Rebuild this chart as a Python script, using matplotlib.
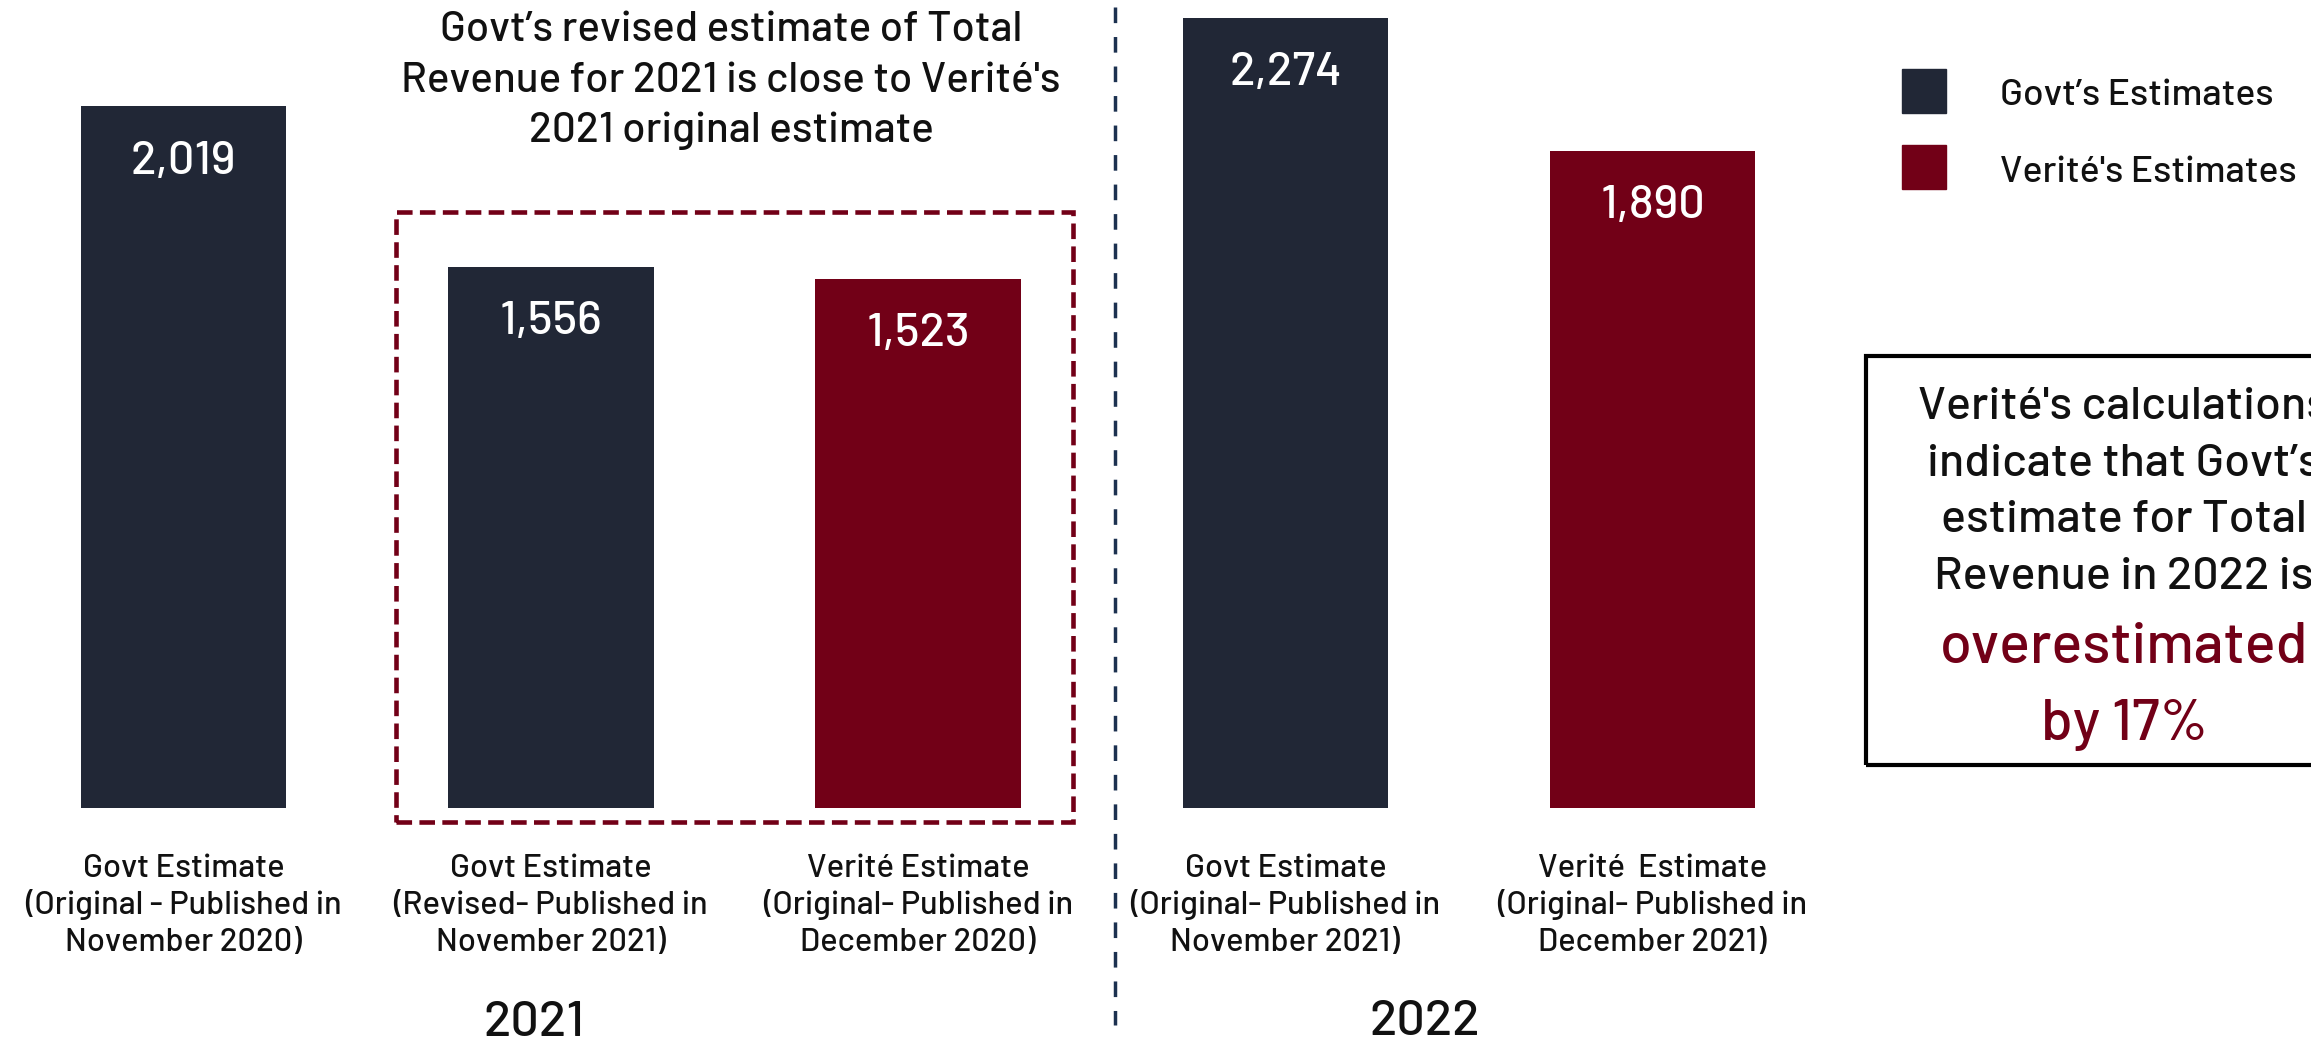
import matplotlib
import matplotlib.pyplot as plt
from matplotlib.patches import Rectangle
from matplotlib.lines import Line2D

matplotlib.use('Agg')

W, H = 2311, 1042

# data
categories = [
    "Govt Estimate\n(Original - Published in\nNovember 2020)",
    "Govt Estimate\n(Revised- Published in\nNovember 2021)",
    "Verité Estimate\n(Original- Published in\nDecember 2020)",
    "Govt Estimate\n(Original- Published in\nNovember 2021)",
    "Verité  Estimate\n(Original- Published in\nDecember 2021)",
]
values = [2019, 1556, 1523, 2274, 1890]
sources = ["Govt", "Govt", "Verite", "Govt", "Verite"]
years = ["2021", "2022"]
legend_labels = ["Govt’s Estimates", "Verité's Estimates"]
title_lines = ["Govt’s revised estimate of Total",
               "Revenue for 2021 is close to Verité's",
               "2021 original estimate"]
note_lines = ["Verité's calculations", "indicate that Govt’s",
              "estimate for Total", "Revenue in 2022 is"]
note_red = ["overestimated", "by 17%"]

NAVY = "#212736"
MAROON = "#720017"
INK = "#111111"

plt.rcParams['font.family'] = ['Barlow', 'DejaVu Sans']
plt.rcParams['font.weight'] = 500

fig = plt.figure(figsize=(W / 100, H / 100), dpi=100)


# helpers: pixel position (from top-left) -> figure fraction
def fx(x):
    return x / W


def fy(y):
    return 1 - y / H


base_px = 807.6
step_px = 367.25
ax = fig.add_axes([0, fy(base_px), 5 * step_px / W, base_px / H])
xs = list(range(len(values)))
colors = [NAVY if s == "Govt" else MAROON for s in sources]
ax.bar(xs, values, width=0.56, color=colors)
ax.set_xlim(-0.5, 4.5)
ax.set_ylim(0, base_px / (790 / 2274))
ax.axis('off')

# value labels inside bars
for xi, v in zip(xs, values):
    ax.annotate(f"{v:,}", (xi, v), xytext=(0, -48.5), textcoords='offset points',
                ha='center', va='baseline', color='white', fontsize=33.8)

# category labels under bars
for xi, lab in zip(xs, categories):
    for k, line in enumerate(lab.split("\n")):
        ax.annotate(line, (xi, 0), xytext=(0, -(69 + 37 * k) * 0.72),
                    textcoords='offset points', ha='center', va='baseline',
                    color=INK, fontsize=23.5, annotation_clip=False)

# year labels
fig.text(fx(534), fy(1036), years[0], ha='center', va='baseline', fontsize=36.3, color=INK)
fig.text(fx(1425), fy(1035), years[1], ha='center', va='baseline', fontsize=36.3, color=INK)

# title over 2021 group
for k, line in enumerate(title_lines):
    fig.text(fx(731), fy(41 + 50.5 * k), line, ha='center', va='baseline',
             fontsize=30.4, color=INK)

# dashed box around the 2021 comparison
fig.add_artist(Rectangle((fx(396), fy(822)), fx(1073) - fx(396), fy(212) - fy(822),
                         transform=fig.transFigure, fill=False, edgecolor=MAROON,
                         linewidth=3.3, linestyle=(0, (3.4, 1.6))))

# vertical divider between years
fig.add_artist(Line2D([fx(1115), fx(1115)], [fy(7), fy(1025)], transform=fig.transFigure,
                      color='#1c3150', linewidth=2.5, dashes=(4.5, 4)))

# legend
for k, (lab, col) in enumerate(zip(legend_labels, [NAVY, MAROON])):
    top = 69 + 76 * k
    fig.add_artist(Rectangle((fx(1902), fy(top + 44)), fx(44), 44 / H,
                             transform=fig.transFigure, color=col))
    fig.text(fx(2000), fy(105 + 77 * k), lab, ha='left', va='baseline',
             fontsize=26.9, color=INK)

# note box on the right
fig.add_artist(Rectangle((fx(1866), fy(765)), fx(2400) - fx(1866), fy(356) - fy(765),
                         transform=fig.transFigure, fill=False, edgecolor='black',
                         linewidth=3))
for k, line in enumerate(note_lines):
    fig.text(fx(2124), fy(419 + 56.7 * k), line, ha='center', va='baseline',
             fontsize=33.6, color=INK)
fig.text(fx(2124), fy(663), note_red[0], ha='center', va='baseline', fontsize=41.4, color=MAROON)
fig.text(fx(2124), fy(740), note_red[1], ha='center', va='baseline', fontsize=41.4, color=MAROON)

fig.savefig("out.png", dpi=100, facecolor='white')
